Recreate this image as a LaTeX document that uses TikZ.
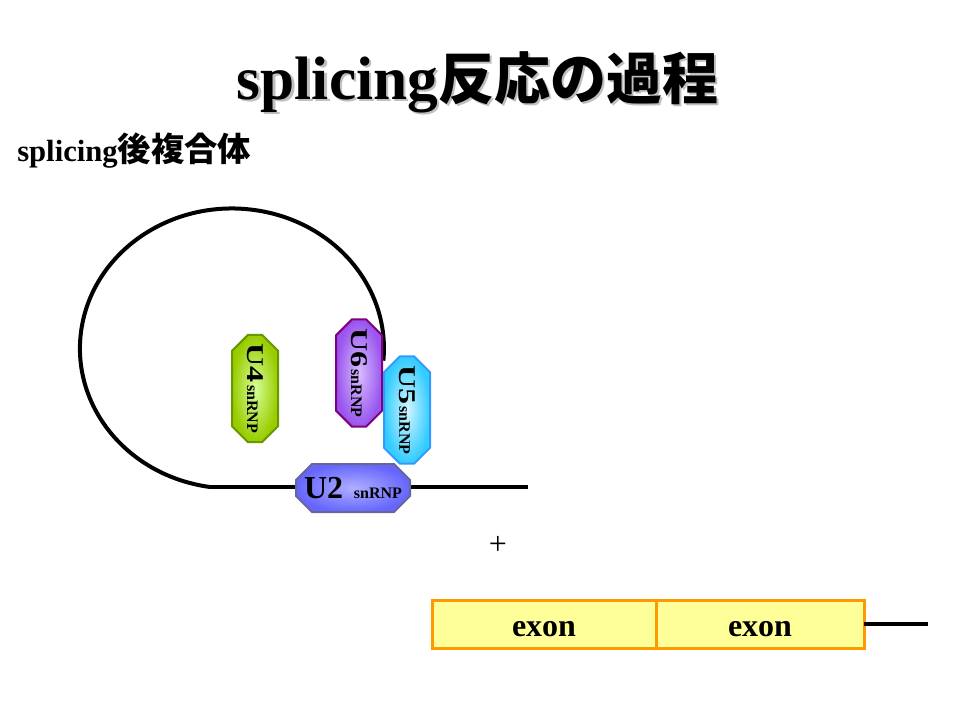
\documentclass[tikz,border=0pt]{standalone}
\usepackage{fontspec}
\setmainfont{Liberation Serif}
\newfontfamily\cjk{Noto Sans CJK JP}
\usetikzlibrary{positioning,shapes.misc}
\definecolor{exonfill}{RGB}{255,255,153}
\definecolor{exonline}{RGB}{255,153,0}
\tikzset{%
  rna/.style={line width=3pt},% RNA strand
  snrnp/.style={draw, chamfered rectangle, chamfered rectangle xsep=6pt,
    chamfered rectangle ysep=6pt, line width=1.5pt, inner sep=0pt,
    shading=radial, font=\bfseries},% snRNP particle
  upright/.style={snrnp, minimum width=85.5pt, minimum height=36pt},
  standing/.style={snrnp, rotate=-90, minimum width=80.5pt, minimum height=34.5pt},
  exon/.style={draw=exonline, fill=exonfill, line width=2.25pt, outer sep=0pt,
    minimum height=36pt, text height=19pt, text depth=0pt,
    font=\fontsize{24}{24}\selectfont\bfseries}% exon box
}
\newcommand*{\particle}[1]{\scalebox{1}[.75]{\fontsize{24}{24}\selectfont #1}\,%
  {\fontsize{12}{12}\selectfont snRNP}}
\newcommand*{\titletext}{\fontsize{46}{46}\selectfont\bfseries
  splicing{\fontsize{42}{42}\selectfont\cjk 反応の過程}}

\begin{document}
\begin{tikzpicture}[x=0.75pt, y=-0.75pt]
\useasboundingbox (0,0) rectangle (960,720);

% title
\node[anchor=base, text=black!25] at (480,102) {\titletext};
\node[anchor=base] (title) at (477.5,100) {\titletext};
\node[anchor=base west, inner sep=0pt] (sub) at (17,162) {\fontsize{23}{23}\selectfont\bfseries splicing{\fontsize{25}{25}\selectfont\cjk 後複合体}};

% intron lariat
\coordinate (loopend) at (210,487);
\coordinate (rnaend) at (528,487);
\draw[rna] (loopend) arc[start angle=98.3, end angle=365, x radius=152, y radius=140];
\draw[rna] (loopend) -- (rnaend);

\node[standing, draw={rgb,255:red,102;green,153;blue,0},
  inner color={rgb,255:red,214;green,255;blue,153}, outer color={rgb,255:red,153;green,204;blue,0}]
  (u4) at (255,388.5) {\particle{U4}};
\node[standing, draw={rgb,255:red,128;green,0;blue,128},
  inner color={rgb,255:red,215;green,190;blue,255}, outer color={rgb,255:red,153;green,85;blue,238}]
  (u6) at (359,373) {\particle{U6}};
\node[standing, draw={rgb,255:red,51;green,153;blue,255},
  inner color={rgb,255:red,210;green,245;blue,255}, outer color={rgb,255:red,51;green,204;blue,255}]
  (u5) at (407,410) {\particle{U5}};
\node[upright, draw={rgb,255:red,102;green,102;blue,153},
  inner color={rgb,255:red,175;green,175;blue,255}, outer color={rgb,255:red,102;green,102;blue,255}]
  (u2) at (353,488) {{\fontsize{24}{24}\selectfont U2}\hspace{8pt}{\fontsize{12}{12}\selectfont snRNP}};

\node (plus) at (498,545) {\fontsize{24}{24}\selectfont +};

% mature mRNA
\node[exon, minimum width=168pt] (exonA) at (544,624) {exon};
\node[exon, minimum width=156pt, right=0pt of exonA] (exonB) {exon};
\coordinate (tailend) at (928,624);
\draw[rna] (exonB.east) -- (tailend);

\end{tikzpicture}
\end{document}
